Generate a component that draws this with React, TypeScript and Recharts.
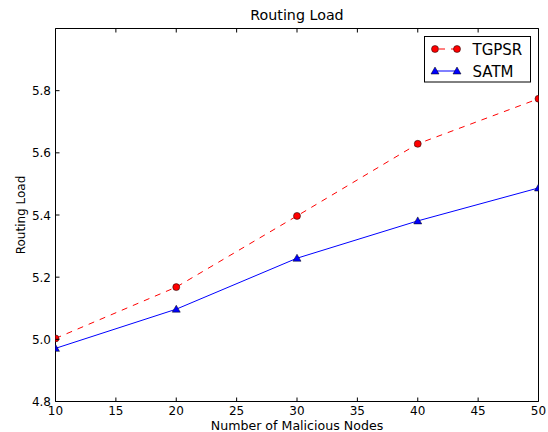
import { Legend, Line, LineChart, XAxis, YAxis } from "recharts"

const font = "'DejaVu Sans', sans-serif"

// number of malicious nodes
const nodes = [10, 20, 30, 40, 50]
// routing load per protocol
const tgpsr = [5.003, 5.168, 5.397, 5.629, 5.774]
const satm = [4.971, 5.097, 5.261, 5.381, 5.487]

const xTicks = [10, 15, 20, 25, 30, 35, 40, 45, 50]
const yTicks = [4.8, 5.0, 5.2, 5.4, 5.6, 5.8]

const data = nodes.map((n, i) => ({ nodes: n, tgpsr: tgpsr[i], satm: satm[i] }))

function BottomTick({ x, y, payload }: any) {
    return (
        <g>
            <line x1={x} y1={y} x2={x} y2={y - 4} stroke="#000" />
            <text x={x} y={y + 13} textAnchor="middle" fontSize={12} fontFamily={font} fill="#000">
                {payload.value}
            </text>
        </g>
    )
}

function TopTick({ x, y }: any) {
    return <line x1={x} y1={y} x2={x} y2={y + 4} stroke="#000" />
}

function LeftTick({ x, y, payload }: any) {
    return (
        <g>
            <line x1={x} y1={y} x2={x + 4} y2={y} stroke="#000" />
            <text x={x - 4.5} y={y + 4.5} textAnchor="end" fontSize={12} fontFamily={font} fill="#000">
                {Number(payload.value).toFixed(1)}
            </text>
        </g>
    )
}

function RightTick({ x, y }: any) {
    return <line x1={x} y1={y} x2={x - 4} y2={y} stroke="#000" />
}

function Circle({ cx, cy }: any) {
    return <circle cx={cx} cy={cy} r={3.5} fill="#ff0000" stroke="#000" strokeWidth={0.5} />
}

function Triangle({ cx, cy }: any) {
    const s = 4
    return (
        <polygon
            points={`${cx},${cy - s} ${cx - s},${cy + s * 0.75} ${cx + s},${cy + s * 0.75}`}
            fill="#0000ff"
            stroke="#000"
            strokeWidth={0.5}
        />
    )
}

function XLabel({ viewBox }: any) {
    const { x, width, y, height } = viewBox
    return (
        <text x={x + width / 2} y={y + height - 2} textAnchor="middle" fontSize={12.6} fontFamily={font} fill="#000">
            Number of Malicious Nodes
        </text>
    )
}

function YLabel({ viewBox }: any) {
    const { y, height } = viewBox
    const cy = y + height / 2
    return (
        <text x={24.5} y={cy} transform={`rotate(-90 24.5 ${cy})`} textAnchor="middle" fontSize={12} fontFamily={font} fill="#000">
            Routing Load
        </text>
    )
}

function LegendBox() {
    return (
        <svg width={108} height={47} style={{ display: "block" }}>
            <rect x={0.5} y={0.5} width={106} height={45.5} fill="#fff" stroke="#000" />
            <line x1={11} y1={13} x2={33} y2={13} stroke="#ff0000" strokeDasharray="6 6" strokeDashoffset={-4} />
            <Circle cx={11} cy={13} />
            <Circle cx={33} cy={13} />
            <text x={48.5} y={18.5} fontSize={15} fontFamily={font} fill="#000">TGPSR</text>
            <line x1={11} y1={35} x2={33} y2={35} stroke="#0000ff" />
            <Triangle cx={11} cy={35} />
            <Triangle cx={33} cy={35} />
            <text x={48.5} y={40.5} fontSize={15} fontFamily={font} fill="#000">SATM</text>
        </svg>
    )
}

export default function App() {
    return (
        <div style={{ position: "absolute", left: 0, top: 0, width: 548, height: 432, background: "#fff", fontFamily: font }}>
            <div style={{ position: "absolute", left: 55.5, width: 483, top: 6, textAlign: "center", fontSize: 14.25, lineHeight: "18px", color: "#000" }}>
                Routing Load
            </div>
            <LineChart width={548} height={432} data={data} margin={{ top: 27.5, right: 8.5, bottom: 0, left: 0 }}>
                <XAxis
                    dataKey="nodes"
                    type="number"
                    domain={[10, 50]}
                    ticks={xTicks}
                    interval={0}
                    allowDataOverflow
                    height={30.5}
                    axisLine={{ stroke: "#000" }}
                    tickLine={false}
                    tickSize={0}
                    tickMargin={0}
                    tick={<BottomTick />}
                    label={<XLabel />}
                />
                <XAxis
                    xAxisId="top"
                    orientation="top"
                    dataKey="nodes"
                    type="number"
                    domain={[10, 50]}
                    ticks={xTicks}
                    interval={0}
                    height={1}
                    axisLine={{ stroke: "#000" }}
                    tickLine={false}
                    tickSize={0}
                    tickMargin={0}
                    tick={<TopTick />}
                />
                <YAxis
                    type="number"
                    domain={[4.8, 6.0]}
                    ticks={yTicks}
                    interval={0}
                    allowDataOverflow
                    width={55.5}
                    axisLine={{ stroke: "#000" }}
                    tickLine={false}
                    tickSize={0}
                    tickMargin={0}
                    tick={<LeftTick />}
                    label={<YLabel />}
                />
                <YAxis
                    yAxisId="right"
                    orientation="right"
                    type="number"
                    domain={[4.8, 6.0]}
                    ticks={yTicks}
                    interval={0}
                    width={1}
                    axisLine={{ stroke: "#000" }}
                    tickLine={false}
                    tickSize={0}
                    tickMargin={0}
                    tick={<RightTick />}
                />
                <Legend
                    layout="vertical"
                    align="center"
                    verticalAlign="middle"
                    wrapperStyle={{ left: 424, top: 36, width: 108, height: 47 }}
                    content={() => <LegendBox />}
                />
                <Line
                    dataKey="tgpsr"
                    stroke="#ff0000"
                    strokeWidth={1}
                    strokeDasharray="6 6"
                    dot={(p: any) => <Circle key={"t" + p.index} cx={p.cx} cy={p.cy} />}
                    isAnimationActive={false}
                />
                <Line
                    dataKey="satm"
                    stroke="#0000ff"
                    strokeWidth={1}
                    dot={(p: any) => <Triangle key={"s" + p.index} cx={p.cx} cy={p.cy} />}
                    isAnimationActive={false}
                />
            </LineChart>
        </div>
    )
}
